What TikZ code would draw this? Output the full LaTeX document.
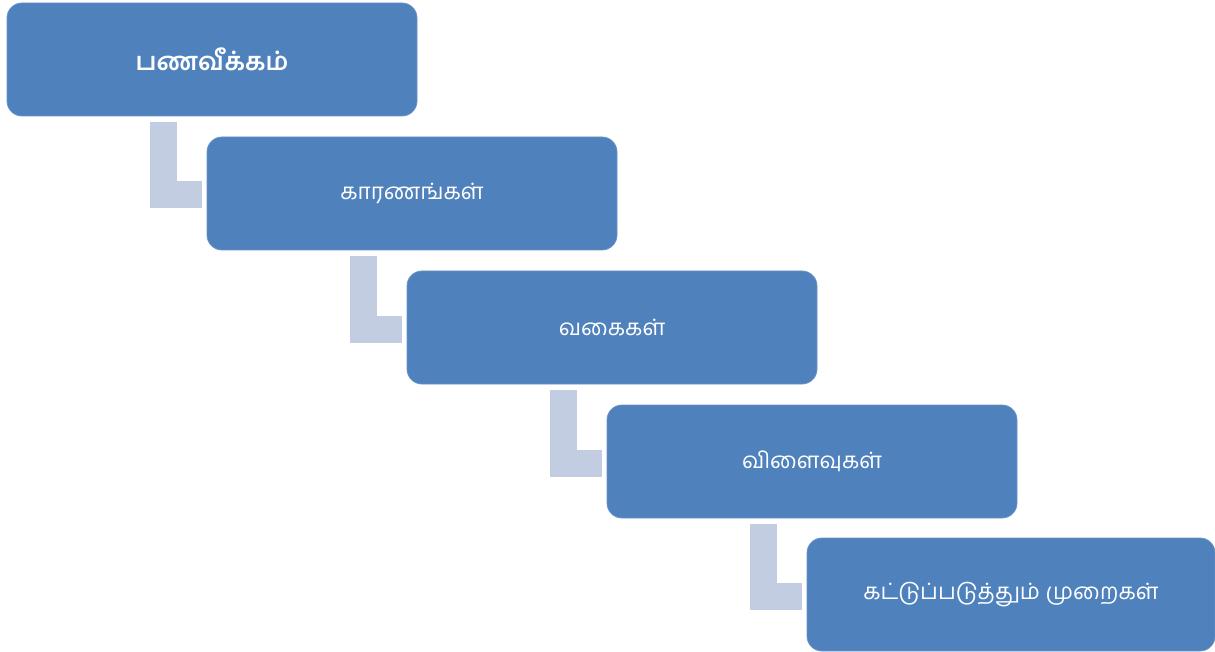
\documentclass[tikz,border=0pt]{standalone}
\usepackage{fontspec}
\newfontfamily\tamil[Script=Tamil]{Hind Madurai}
\definecolor{boxblue}{HTML}{4F81BD}
\definecolor{connblue}{HTML}{C3CDE2}
\begin{document}
\begin{tikzpicture}[x=1pt,y=-1pt,
  stepbox/.style={draw=boxblue!85!white, line width=0.8pt, fill=boxblue, rounded corners=15pt,
    minimum width=410pt, minimum height=113pt, inner sep=0pt, text=white,
    font=\tamil\fontsize{22.5}{26}\selectfont},
  conn/.style={draw=connblue, line width=27pt, line cap=butt, line join=miter}]
\useasboundingbox (0,0) rectangle (1215,652);
\node[stepbox, font=\tamil\bfseries\fontsize{25}{28}\selectfont] (a) at (212,59.5) {பணவீக்கம்};
\node[stepbox] (b) at (412,193.5) {காரணங்கள்};
\node[stepbox] (c) at (612,327.5) {வகைகள்};
\node[stepbox] (d) at (812,461.5) {விளைவுகள்};
\node[stepbox, minimum width=408pt] (e) at (1011,594.5) {கட்டுப்படுத்தும் முறைகள்};
\foreach \p/\q in {a/b,b/c,c/d,d/e}{
  \draw[conn] ([xshift=156.5pt,yshift=-6pt]\p.south west) |- ([xshift=-5pt,yshift=-1.5pt]\q.west);
}
\end{tikzpicture}
\end{document}
